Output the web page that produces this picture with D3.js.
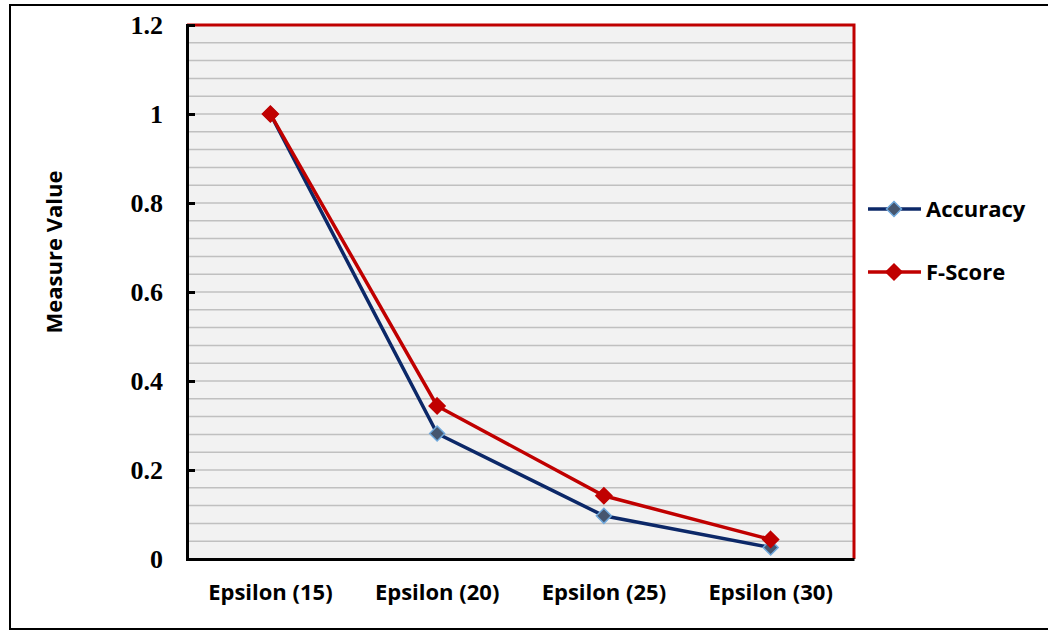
<!DOCTYPE html>
<html><head><meta charset="utf-8">
<script src="https://cdn.jsdelivr.net/npm/d3@7"></script>
<style>body{margin:0;background:#fff}</style>
</head><body>
<svg id="chart" width="1048" height="631"></svg>
<script>
const categories = ["Epsilon (15)", "Epsilon (20)", "Epsilon (25)", "Epsilon (30)"];
const accuracy = [1.0, 0.282, 0.097, 0.026];
const fscore = [1.0, 0.344, 0.142, 0.044];
const yTicks = [0, 0.2, 0.4, 0.6, 0.8, 1, 1.2];
const gridStep = 0.04;
const seriesNames = ["Accuracy", "F-Score"];

const svg = d3.select("#chart");
const L = 187, T = 25, R = 854, B = 559;
const sans = "'Open Sans', sans-serif";

svg.append("rect").attr("x", 10).attr("y", 5).attr("width", 1060).attr("height", 624)
  .attr("fill", "#fff").attr("stroke", "#000").attr("stroke-width", 2);

const x = d3.scaleBand().domain(categories).range([L, R]);
const y = d3.scaleLinear().domain([0, 1.2]).range([B, T]);

svg.append("rect").attr("x", L).attr("y", T).attr("width", R - L).attr("height", B - T).attr("fill", "#f2f2f2");

const grid = d3.range(1, Math.round(1.2 / gridStep)).map(i => i * gridStep);
svg.append("g").selectAll("line").data(grid).join("line")
  .attr("x1", L).attr("x2", R).attr("y1", d => y(d)).attr("y2", d => y(d))
  .attr("stroke", "#c0c0c0").attr("stroke-width", 1.5);

// red frame
svg.append("path").attr("d", `M${L},${T}H${R}V${B}`).attr("fill", "none")
  .attr("stroke", "#c00000").attr("stroke-width", 3);

// y axis
const yAxis = svg.append("g").attr("transform", `translate(${L},0)`)
  .call(d3.axisLeft(y).tickValues(yTicks).tickSize(-8).tickPadding(24).tickFormat(d => String(+d.toFixed(1))));
yAxis.select(".domain").attr("stroke", "#000").attr("stroke-width", 3);
yAxis.selectAll(".tick line").attr("stroke", "#000").attr("stroke-width", 3);
yAxis.selectAll("text").attr("font-family", "Liberation Serif, serif").attr("font-weight", "bold")
  .attr("font-size", 26).attr("fill", "#000");

// x axis
const xAxis = svg.append("g").attr("transform", `translate(0,${B})`)
  .call(d3.axisBottom(x).tickSize(0).tickPadding(25));
xAxis.select(".domain").attr("stroke", "#000").attr("stroke-width", 3);
xAxis.selectAll("text").attr("font-family", sans).attr("font-weight", "bold")
  .attr("font-size", 22).attr("fill", "#000");

svg.append("text").attr("transform", "translate(62,252) rotate(-90)").attr("text-anchor", "middle")
  .attr("font-family", sans).attr("font-weight", "bold").attr("font-size", 22).text("Measure Value");

const cx = d => x(d) + x.bandwidth() / 2;
const styles = [
  {data: accuracy, line: "#0c2868", fill: "#46566f", stroke: "#6fa8dc", r: 7.5},
  {data: fscore, line: "#c00000", fill: "#c00000", stroke: "#c00000", r: 8}
];
const diamond = (px, py, r) => `M${px},${py - r}L${px + r},${py}L${px},${py + r}L${px - r},${py}Z`;

styles.forEach(s => {
  const line = d3.line().x((d, i) => cx(categories[i])).y(d => y(d));
  svg.append("path").datum(s.data).attr("d", line).attr("fill", "none")
    .attr("stroke", s.line).attr("stroke-width", 3.5);
  svg.append("g").selectAll("path").data(s.data).join("path")
    .attr("d", (d, i) => diamond(cx(categories[i]), y(d), s.r))
    .attr("fill", s.fill).attr("stroke", s.stroke).attr("stroke-width", 1.5);
});

// legend
const legY = [209, 272];
styles.forEach((s, i) => {
  const g = svg.append("g");
  g.append("line").attr("x1", 868).attr("x2", 921).attr("y1", legY[i]).attr("y2", legY[i])
    .attr("stroke", s.line).attr("stroke-width", 3.5);
  g.append("path").attr("d", diamond(894, legY[i], s.r)).attr("fill", s.fill).attr("stroke", s.stroke).attr("stroke-width", 1.5);
  g.append("text").attr("x", 926).attr("y", legY[i] + 8).attr("font-family", sans)
    .attr("font-weight", "bold").attr("font-size", 22).text(seriesNames[i]);
});
</script>
</body></html>
